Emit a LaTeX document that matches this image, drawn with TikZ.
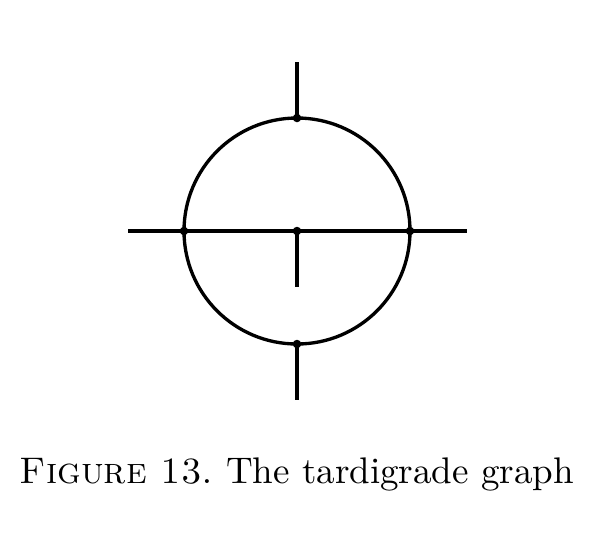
\documentclass[tikz,border=0pt]{standalone}
\usetikzlibrary{positioning}
\tikzset{
  vertex/.style={circle, fill, inner sep=0pt, minimum size=2.3pt},
  edge/.style={line width=0.9pt},
  captiontext/.style={font=\normalsize, anchor=center}
}

\begin{document}
\begin{tikzpicture}[x=0.27pt, y=-0.27pt]
  \useasboundingbox (0,0) rectangle (596,540);

  % Vertices
  \node[vertex] (top) at (297,118) {};
  \node[vertex] (left) at (184,231) {};
  \node[vertex] (mid) at (297,231) {};
  \node[vertex] (right) at (410,231) {};
  \node[vertex] (bot) at (297,344) {};

  % Free ends
  \coordinate (topend) at (297,62);
  \coordinate (leftend) at (128,231);
  \coordinate (rightend) at (467,231);
  \coordinate (midend) at (297,287);
  \coordinate (botend) at (297,400);

  % Edges
  \draw[edge] (mid.center) circle[radius=113];
  \draw[edge] (leftend) -- (left.center) -- (mid.center) -- (right.center) -- (rightend);
  \draw[edge] (topend) -- (top.center);
  \draw[edge] (mid.center) -- (midend);
  \draw[edge] (bot.center) -- (botend);

  % Caption
  \node[captiontext] (caption) at (297,474) {\textsc{Figure 13.}\ The tardigrade graph};
\end{tikzpicture}
\end{document}
